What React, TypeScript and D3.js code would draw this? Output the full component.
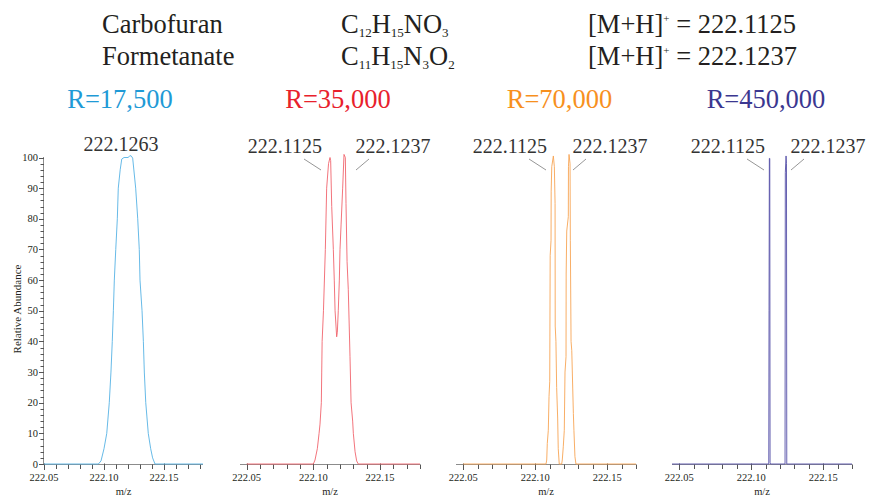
import React from "react";
import * as d3 from "d3";

// ---------- DATA ----------
const COMPOUNDS = ["Carbofuran", "Formetanate"];
const MH_VALUES = ["222.1125", "222.1237"];
const RESOLUTIONS = ["R=17,500", "R=35,000", "R=70,000", "R=450,000"];
const X_TICK_LABELS = [222.05, 222.1, 222.15];
const Y_TICKS = [0, 10, 20, 30, 40, 50, 60, 70, 80, 90, 100];

// profile traces: [m/z, relative abundance]
const profile17500: [number, number][] = [
  [222.05, 0], [222.0953, 0], [222.0975, 1], [222.1, 5], [222.1023, 10], [222.1044, 20],
  [222.1058, 30], [222.1069, 40], [222.1078, 50], [222.1086, 60], [222.1098, 70],
  [222.1111, 80], [222.1119, 90], [222.1135, 96], [222.1148, 99.5], [222.1167, 100],
  [222.12, 100], [222.1215, 100.5], [222.1225, 100.6], [222.1239, 99.8], [222.1264, 90],
  [222.1281, 80], [222.1294, 70], [222.13, 60], [222.1317, 50], [222.1328, 40],
  [222.1336, 30], [222.1348, 20], [222.1369, 10], [222.1389, 5], [222.1405, 2],
  [222.1425, 0], [222.1825, 0],
];
const profile35000: [number, number][] = [
  [222.05, 0], [222.1, 0], [222.10125, 1.3], [222.103, 5], [222.1043, 10], [222.105, 13],
  [222.106, 20], [222.1063, 30], [222.1066, 40], [222.1076, 50], [222.109, 70],
  [222.11, 90], [222.1114, 98], [222.1125, 100], [222.113, 99], [222.1138, 84],
  [222.115, 70], [222.1157, 60], [222.1163, 50], [222.117, 45], [222.1175, 41.5],
  [222.118, 43], [222.1187, 50], [222.1195, 60], [222.12, 70], [222.1208, 78],
  [222.122, 90], [222.123, 101], [222.124, 100], [222.1245, 85], [222.1253, 66],
  [222.1262, 57], [222.1268, 47], [222.1275, 35], [222.1283, 20], [222.1295, 14],
  [222.13, 10], [222.1313, 4], [222.1325, 1], [222.1337, 0], [222.18, 0],
];
const profile70000: [number, number][] = [
  [222.05, 0], [222.1075, 0], [222.108, 1.3], [222.1084, 6.7], [222.1091, 11],
  [222.1096, 22], [222.1101, 27], [222.1104, 68], [222.111, 73], [222.1111, 89],
  [222.1115, 97], [222.1126, 100.5], [222.1133, 97], [222.1138, 85], [222.1139, 45],
  [222.1144, 40], [222.1149, 25], [222.1156, 15], [222.116, 5], [222.1167, 0],
  [222.1184, 0], [222.1188, 1.3], [222.1195, 5.6], [222.1202, 11], [222.1207, 30],
  [222.1214, 35], [222.1215, 62], [222.1219, 76], [222.123, 80.7], [222.1231, 97],
  [222.1235, 101], [222.1242, 98], [222.1244, 73], [222.1249, 40], [222.1254, 37],
  [222.1265, 16.5], [222.1269, 11], [222.1276, 2.4], [222.1283, 0], [222.17, 0],
];
const profile450000: [number, number][] = [
  [222.045, 0], [222.1122, 0], [222.1124, 50], [222.1126, 99.7], [222.1129, 99.7],
  [222.1131, 0.5], [222.1134, 0], [222.1235, 0], [222.1237, 95], [222.1242, 100.5],
  [222.1245, 98], [222.1247, 0], [222.17, 0],
];
const PEAK_LABELS_17500 = ["222.1263"];
const PEAK_LABELS_SPLIT = ["222.1125", "222.1237"];

// ---------- LAYOUT ----------
const W = 870;
const H = 497;
const Y0 = 464;
const Y100 = 157.5;
const TEXT = "#231f20";
const SERIF = "'Liberation Serif', 'Times New Roman', serif";

type Panel = {
  data: [number, number][];
  domain: [number, number];
  range: [number, number];
  color: string;
  titleColor: string;
  title: string;
  titleX: number;
  labels: string[];
  labelX: number[];
};

const PANELS: Panel[] = [
  { data: profile17500, domain: [222.05, 222.1825], range: [44, 203], color: "#56b2e4", titleColor: "#1f9ad6", title: RESOLUTIONS[0], titleX: 120, labels: PEAK_LABELS_17500, labelX: [121] },
  { data: profile35000, domain: [222.045, 222.18], range: [240, 420], color: "#f0646d", titleColor: "#e8212c", title: RESOLUTIONS[1], titleX: 338, labels: PEAK_LABELS_SPLIT, labelX: [285, 393] },
  { data: profile70000, domain: [222.045, 222.17], range: [456, 636], color: "#f7a555", titleColor: "#f7901e", title: RESOLUTIONS[2], titleX: 559.5, labels: PEAK_LABELS_SPLIT, labelX: [510, 610] },
  { data: profile450000, domain: [222.045, 222.17], range: [672, 852], color: "#5650a8", titleColor: "#3b3790", title: RESOLUTIONS[3], titleX: 766, labels: PEAK_LABELS_SPLIT, labelX: [728, 828] },
];

const yScale = d3.scaleLinear().domain([0, 100]).range([Y0, Y100]);

function PanelView({ p, idx }: { p: Panel; idx: number }) {
  const x = d3.scaleLinear().domain(p.domain).range(p.range);
  const line = d3
    .line<[number, number]>()
    .x((d) => x(d[0]))
    .y((d) => yScale(d[1]));
  const minor = d3.range(Math.ceil(p.domain[0] * 100 - 1e-6), Math.floor(p.domain[1] * 100 + 1e-6) + 1).map((v) => v / 100);
  const cx = (p.range[0] + p.range[1]) / 2;
  return (
    <g>
      <text x={p.titleX} y={108} fontSize={26.5} fill={p.titleColor} textAnchor="middle" fontFamily={SERIF}>
        {p.title}
      </text>
      {p.labels.map((l, i) => (
        <text key={l} x={p.labelX[i]} y={idx === 0 ? 151 : 153} fontSize={20} fill="#333" textAnchor="middle" fontFamily={SERIF}>
          {l}
        </text>
      ))}
      {p.labels.length === 2 &&
        p.labelX.map((lx, i) => {
          const sx = i === 0 ? lx + 19 : lx - 24;
          const ex = i === 0 ? sx + 17 : sx - 13;
          return <line key={i} x1={sx} y1={159} x2={ex} y2={170} stroke="#8a8a8a" strokeWidth={0.9} />;
        })}
      {/* x axis */}
      <line x1={p.range[0]} x2={p.range[1]} y1={Y0 + 0.5} y2={Y0 + 0.5} stroke="#8c8c8c" strokeWidth={1} />
      {minor.map((t) => {
        const major = X_TICK_LABELS.some((m) => Math.abs(m - t) < 1e-6);
        const tx = Math.round(x(t)) + 0.5;
        return (
          <line key={t} x1={tx} x2={tx} y1={major ? Y0 - 0.5 : Y0 + 0.5} y2={major ? Y0 + 6 : Y0 + 5} stroke="#555" strokeWidth={1} />
        );
      })}
      {X_TICK_LABELS.map((t) => (
        <text key={t} x={x(t)} y={481} fontSize={10.5} fill={TEXT} textAnchor="middle" fontFamily={SERIF}>
          {t.toFixed(2)}
        </text>
      ))}
      <text x={cx} y={495} fontSize={10.5} fill={TEXT} textAnchor="middle" fontFamily={SERIF}>
        m/z
      </text>
      <path d={line(p.data) || ""} fill="none" stroke={p.color} strokeWidth={0.9} strokeLinejoin="round" />
    </g>
  );
}

export default function App() {
  const yMinor = d3.range(0, 101, 2);
  const axX = 44;
  return (
    <svg width={W} height={H} style={{ position: "absolute", left: 0, top: 0, background: "#fff" }} xmlns="http://www.w3.org/2000/svg">
      <rect width={W} height={H} fill="#fff" />
      {/* header */}
      <g fontFamily={SERIF} fill={TEXT} fontSize={26.5}>
        <text x={102} y={33}>{COMPOUNDS[0]}</text>
        <text x={102} y={65}>{COMPOUNDS[1]}</text>
        <text x={341} y={33}>
          C<tspan fontSize={13} dy={4}>12</tspan>
          <tspan dy={-4}>H</tspan>
          <tspan fontSize={13} dy={4}>15</tspan>
          <tspan dy={-4}>NO</tspan>
          <tspan fontSize={13} dy={4}>3</tspan>
        </text>
        <text x={341} y={65}>
          C<tspan fontSize={13} dy={4}>11</tspan>
          <tspan dy={-4}>H</tspan>
          <tspan fontSize={13} dy={4}>15</tspan>
          <tspan dy={-4}>N</tspan>
          <tspan fontSize={13} dy={4}>3</tspan>
          <tspan dy={-4}>O</tspan>
          <tspan fontSize={13} dy={4}>2</tspan>
        </text>
        {MH_VALUES.map((v, i) => (
          <text key={v} x={588} y={33 + i * 32}>
            [M+H]<tspan fontSize={11} dy={-11}>+</tspan>
            <tspan dy={11}>{" = " + v}</tspan>
          </text>
        ))}
      </g>
      {/* y axis of first panel */}
      <line x1={axX - 0.5} x2={axX - 0.5} y1={Y0 + 0.5} y2={Y100 - 0.5} stroke="#8c8c8c" strokeWidth={1} />
      {yMinor.map((t) => {
        const major = t % 10 === 0;
        const ty = Math.round(yScale(t)) + 0.5;
        return <line key={t} x1={major ? axX - 5 : axX - 3.5} x2={axX} y1={ty} y2={ty} stroke="#555" strokeWidth={1} />;
      })}
      {Y_TICKS.map((t) => (
        <text key={t} x={38} y={yScale(t) + 3.5} fontSize={10.5} fill={TEXT} textAnchor="end" fontFamily={SERIF}>
          {t}
        </text>
      ))}
      <text transform={`translate(21,309) rotate(-90)`} fontSize={11} fill={TEXT} textAnchor="middle" fontFamily={SERIF}>
        Relative Abundance
      </text>
      {PANELS.map((p, i) => (
        <PanelView key={i} p={p} idx={i} />
      ))}
    </svg>
  );
}
